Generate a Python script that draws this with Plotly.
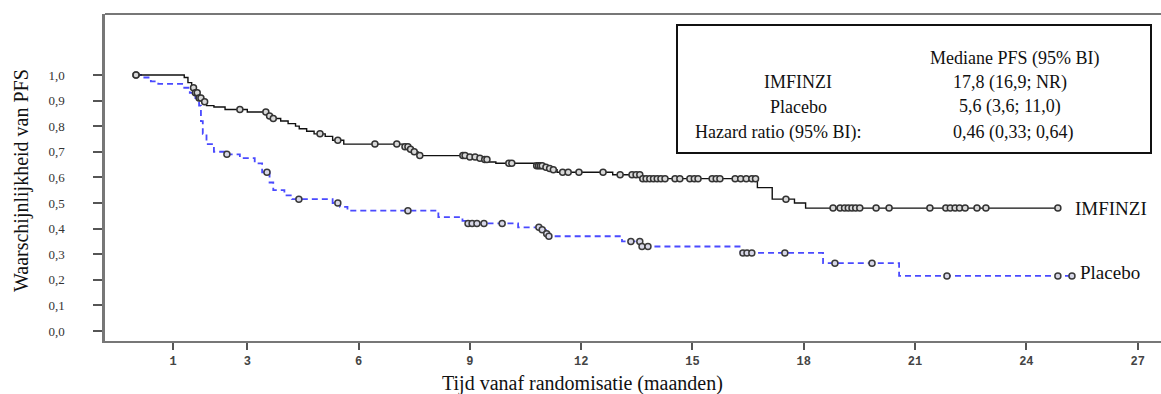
import plotly.graph_objects as go

# ---- data ----
# IMFINZI Kaplan-Meier steps (time in months, survival probability)
imf_t = [0, 1.3, 1.4, 1.5, 1.6, 1.7, 1.8, 1.9, 2.1, 2.4, 3.0, 3.55, 3.65, 3.9, 4.1, 4.3, 4.4, 4.6, 4.8,
         5.1, 5.3, 5.6, 7.2, 7.35, 7.45, 7.6, 9.0, 9.25, 9.4, 9.5, 9.7, 10.75, 11.0, 11.1, 11.2, 11.35,
         12.85, 13.62, 16.75, 17.15, 17.75, 18.05, 24.85]
imf_s = [1.0, 0.99, 0.97, 0.95, 0.93, 0.91, 0.895, 0.88, 0.875, 0.865, 0.855, 0.84, 0.83, 0.82, 0.81, 0.80,
         0.79, 0.78, 0.77, 0.76, 0.745, 0.73, 0.72, 0.71, 0.70, 0.685, 0.68, 0.675, 0.67, 0.66, 0.655,
         0.645, 0.64, 0.635, 0.63, 0.62, 0.61, 0.595, 0.56, 0.515, 0.50, 0.48, 0.48]
imf_cens = [0, 1.55, 1.6, 1.65, 1.7, 1.75, 1.85, 2.8, 3.5, 3.6, 3.7, 4.96, 5.44, 6.44, 7.03, 7.25, 7.33, 7.4,
            7.5, 7.65, 8.81, 8.87, 9.0, 9.14, 9.27, 9.4, 9.46, 10.05, 10.13, 10.8, 10.85, 10.9, 10.95,
            11.05, 11.15, 11.25, 11.5, 11.65, 11.94, 12.59, 13.05, 13.37, 13.48, 13.58, 13.66, 13.75,
            13.85, 13.95, 14.05, 14.15, 14.26, 14.53, 14.66, 14.93, 15.05, 15.15, 15.53, 15.64, 15.74,
            16.15, 16.3, 16.45, 16.6, 16.7, 17.52, 18.79, 18.98, 19.1, 19.2, 19.3, 19.4, 19.51, 19.95,
            20.3, 21.4, 21.83, 21.95, 22.08, 22.2, 22.35, 22.67, 22.91, 24.85]

# Placebo Kaplan-Meier steps
pla_t = [0, 0.2, 0.4, 0.6, 1.3, 1.45, 1.6, 1.7, 1.75, 1.8, 1.9, 2.1, 2.4, 2.8, 3.2, 3.4, 3.6, 3.7, 4.0, 4.2,
         5.3, 5.5, 5.7, 8.15, 8.8, 8.9, 10.3, 10.9, 11.05, 11.1, 13.1, 13.6, 16.3, 18.52, 20.57, 25.23]
pla_s = [1.0, 0.99, 0.975, 0.965, 0.95, 0.93, 0.91, 0.88, 0.82, 0.77, 0.73, 0.70, 0.69, 0.675, 0.655, 0.62,
         0.58, 0.55, 0.53, 0.515, 0.50, 0.485, 0.47, 0.445, 0.43, 0.42, 0.405, 0.395, 0.38, 0.37, 0.35,
         0.33, 0.305, 0.265, 0.215, 0.215]
pla_cens = [0, 2.45, 3.53, 4.39, 5.44, 7.33, 8.95, 9.06, 9.19, 9.38, 9.87, 10.86, 10.95, 11.07, 11.13,
            13.34, 13.58, 13.64, 13.8, 16.36, 16.47, 16.6, 17.49, 18.84, 19.84, 21.86, 24.85, 25.23]

x_ticks = [1, 3, 6, 9, 12, 15, 18, 21, 24, 27]
y_ticks = [0.0, 0.1, 0.2, 0.3, 0.4, 0.5, 0.6, 0.7, 0.8, 0.9, 1.0]
y_ticktext = ["0,0", "0,1", "0,2", "0,3", "0,4", "0,5", "0,6", "0,7", "0,8", "0,9", "1,0"]

table_rows = [("", "Mediane PFS (95% BI)"),
              ("IMFINZI", "17,8 (16,9; NR)"),
              ("Placebo", "5,6 (3,6; 11,0)"),
              ("Hazard ratio (95% BI):", "0,46 (0,33; 0,64)")]


def km_at(ts, ss, t):
    val = ss[0]
    for ti, si in zip(ts, ss):
        if ti <= t + 1e-9:
            val = si
    return val


imf_cy = [km_at(imf_t, imf_s, t) for t in imf_cens]
pla_cy = [km_at(pla_t, pla_s, t) for t in pla_cens]

SERIF = "Liberation Serif, Times New Roman, serif"
MONO = "Liberation Mono, DejaVu Sans Mono, monospace"

# pixel helpers for layout placement (plot area: x 105..1161, y 14..341)
def px(x):
    return (x - 105) / 1056


def py(y):
    return (341 - y) / 327


fig = go.Figure()
fig.add_trace(go.Scatter(x=pla_t, y=pla_s, mode="lines", line_shape="hv",
                         line=dict(color="#4a4aff", width=1.8, dash="6px,4px"),
                         showlegend=False, hoverinfo="skip"))
fig.add_trace(go.Scatter(x=imf_t, y=imf_s, mode="lines", line_shape="hv",
                         line=dict(color="#111111", width=1.4),
                         showlegend=False, hoverinfo="skip"))
fig.add_trace(go.Scatter(x=pla_cens, y=pla_cy, mode="markers",
                         marker=dict(symbol="circle", size=6, color="#d8d8e8",
                                     line=dict(color="#3a3a3a", width=1.5)),
                         showlegend=False, hoverinfo="skip"))
fig.add_trace(go.Scatter(x=imf_cens, y=imf_cy, mode="markers",
                         marker=dict(symbol="circle", size=6, color="#d8d8d8",
                                     line=dict(color="#333333", width=1.5)),
                         showlegend=False, hoverinfo="skip"))

fig.update_layout(
    width=1161, height=394,
    margin=dict(l=105, r=0, t=14, b=53),
    paper_bgcolor="white", plot_bgcolor="white",
    font=dict(family=SERIF, color="#111"),
    xaxis=dict(range=[-0.836, 27.63], tickvals=x_ticks,
               ticktext=["<b>%d</b>" % v for v in x_ticks],
               ticks="outside", ticklen=7, tickwidth=1.5, tickcolor="#555",
               showline=True, linecolor="#777", linewidth=2, showgrid=False, zeroline=False,
               tickfont=dict(family=MONO, size=12, color="#444"), ticklabelstandoff=1),
    yaxis=dict(range=[-0.039, 1.238], tickvals=y_ticks, ticktext=y_ticktext,
               ticks="outside", ticklen=9, tickwidth=1.5, tickcolor="#555",
               showline=True, linecolor="#777", linewidth=2.5, showgrid=False, zeroline=False,
               tickfont=dict(family=SERIF, size=13, color="#333"), ticklabelstandoff=26),
)

# top border line
fig.add_shape(type="line", xref="paper", yref="paper", x0=0, x1=1, y0=1, y1=1,
              line=dict(color="#777", width=2))

# axis titles
fig.add_annotation(text="Tijd vanaf randomisatie (maanden)", xref="paper", yref="paper",
                   x=px(582), y=py(383), xanchor="center", yanchor="middle", showarrow=False,
                   font=dict(family=SERIF, size=20, color="#111"))
fig.add_annotation(text="Waarschijnlijkheid van PFS", xref="paper", yref="paper",
                   x=px(21), y=py(181), xanchor="center", yanchor="middle",
                   textangle=-90, showarrow=False,
                   font=dict(family=SERIF, size=20, color="#111"))

# curve labels
fig.add_annotation(text="IMFINZI", xref="paper", yref="paper", x=px(1073), y=py(208),
                   xanchor="left", yanchor="middle", showarrow=False,
                   font=dict(family=SERIF, size=19, color="#111"))
fig.add_annotation(text="Placebo", xref="paper", yref="paper", x=px(1078), y=py(272),
                   xanchor="left", yanchor="middle", showarrow=False,
                   font=dict(family=SERIF, size=19, color="#111"))

# summary table box
fig.add_shape(type="rect", xref="paper", yref="paper",
              x0=px(677), x1=px(1151), y0=py(153), y1=py(25),
              line=dict(color="#111", width=2), fillcolor="white")
row_y = [58, 82, 107, 132]
left_x = [None, 798, 798, 778]
right_x = [1015, 1010, 1010, 1013]
for (lab, val), ry, lx, rx in zip(table_rows, row_y, left_x, right_x):
    if lab:
        fig.add_annotation(text=lab, xref="paper", yref="paper", x=px(lx), y=py(ry),
                           xanchor="center", yanchor="middle", showarrow=False,
                           font=dict(family=SERIF, size=18, color="#111"))
    fig.add_annotation(text=val, xref="paper", yref="paper", x=px(rx), y=py(ry),
                       xanchor="center", yanchor="middle", showarrow=False,
                       font=dict(family=SERIF, size=18, color="#111"))

fig.write_html("out.html")
